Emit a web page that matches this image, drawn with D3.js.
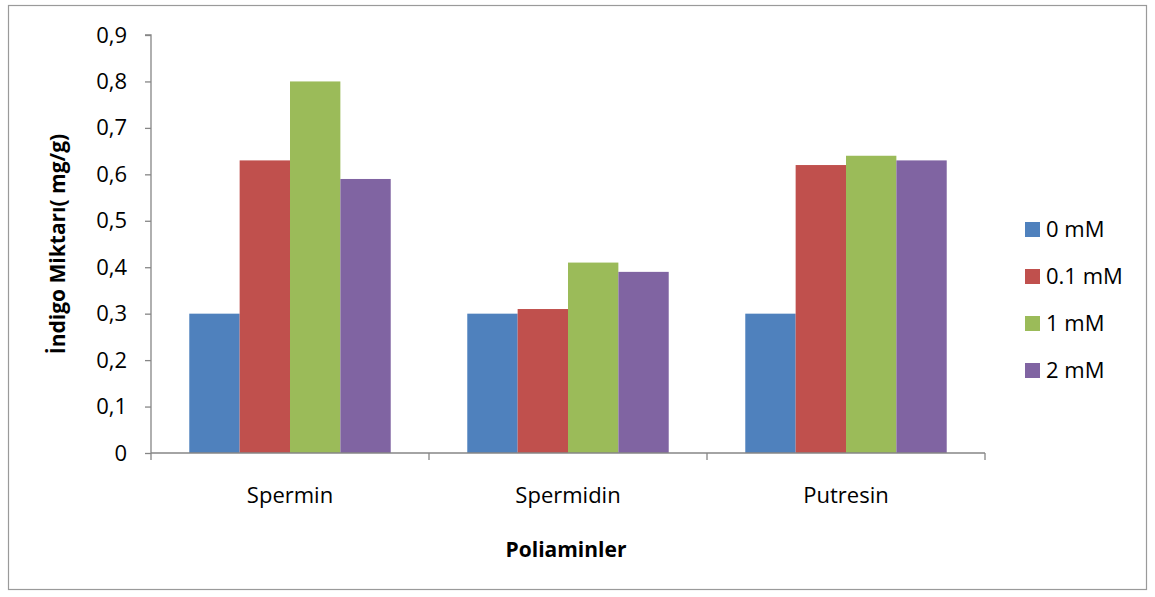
<!DOCTYPE html>
<html><head><meta charset="utf-8">
<script src="https://cdn.jsdelivr.net/npm/d3@7"></script>
<style>body{margin:0;background:#fff;} text{font-family:"Open Sans",sans-serif;}</style>
</head><body>
<svg id="c" width="1155" height="597"></svg>
<script>
const categories = ["Spermin", "Spermidin", "Putresin"];
const seriesNames = ["0 mM", "0.1 mM", "1 mM", "2 mM"];
const values0 = [0.30, 0.30, 0.30];
const values01 = [0.63, 0.31, 0.62];
const values1 = [0.80, 0.41, 0.64];
const values2 = [0.59, 0.39, 0.63];
const colors = ["#4F81BD", "#C0504D", "#9BBB59", "#8064A2"];
const yTicks = [0, 0.1, 0.2, 0.3, 0.4, 0.5, 0.6, 0.7, 0.8, 0.9];
const yTickLabels = ["0", "0,1", "0,2", "0,3", "0,4", "0,5", "0,6", "0,7", "0,8", "0,9"];

const series = [values0, values01, values1, values2];
const FONT = "'Open Sans',sans-serif";
const FS = 22;
const svg = d3.select("#c");
svg.append("rect").attr("x", 8.5).attr("y", 5.5).attr("width", 1138).attr("height", 584)
  .attr("fill", "#fff").attr("stroke", "#9a9a9a").attr("stroke-width", 1.2);

const L = 151, R = 985, T = 35, B = 453;
const x = d3.scaleBand().domain(categories).range([L, R]).paddingInner(0).paddingOuter(0);
const inner = d3.scaleBand().domain(d3.range(4)).range([0, x.bandwidth()]).paddingInner(0).paddingOuter(0.76);
const y = d3.scaleLinear().domain([0, 0.9]).range([B, T]);

categories.forEach((c, ci) => {
  series.forEach((s, si) => {
    svg.append("rect")
      .attr("x", x(c) + inner(si)).attr("width", inner.bandwidth())
      .attr("y", y(s[ci])).attr("height", B - y(s[ci]))
      .attr("fill", colors[si]);
  });
});

// y axis
const yAxis = d3.axisLeft(y).tickValues(yTicks).tickFormat((d, i) => yTickLabels[i]).tickSize(6).tickPadding(18);
const gy = svg.append("g").attr("transform", `translate(${L},0)`).call(yAxis);
gy.select(".domain").attr("stroke", "#868686").attr("stroke-width", 1.3).attr("d", `M-6,${T}H0V${B}`);
gy.selectAll(".tick line").attr("stroke", "#868686").attr("stroke-width", 1.3);
gy.selectAll(".tick text").attr("font-size", FS).attr("fill", "#000").attr("font-family", FONT);

// x axis
const xAxis = d3.axisBottom(x).tickSize(0).tickPadding(34);
const gx = svg.append("g").attr("transform", `translate(0,${B})`).call(xAxis);
gx.select(".domain").attr("stroke", "#868686").attr("stroke-width", 1.3).attr("d", `M${L},0H${R}`);
gx.selectAll(".tick text").attr("font-size", FS).attr("fill", "#000").attr("font-family", FONT);
const bounds = [L].concat(categories.map(c => x(c) + x.bandwidth()));
gx.selectAll(".sep").data(bounds).enter().append("line")
  .attr("x1", d => d).attr("x2", d => d).attr("y1", 0).attr("y2", 7)
  .attr("stroke", "#868686").attr("stroke-width", 1.3);

// axis titles
svg.append("text").attr("transform", `translate(65,244) rotate(-90)`)
  .attr("text-anchor", "middle").attr("font-size", 21).attr("font-weight", "bold").text("İndigo Miktarı( mg/g)");
svg.append("text").attr("x", (L + R) / 2 - 2).attr("y", 557).attr("text-anchor", "middle")
  .attr("font-size", 21).attr("font-weight", "bold").text("Poliaminler");

// legend
const lg = svg.append("g");
seriesNames.forEach((n, i) => {
  const yy = 229 + i * 47;
  lg.append("rect").attr("x", 1025).attr("y", yy - 7).attr("width", 15).attr("height", 15).attr("fill", colors[i]);
  lg.append("text").attr("x", 1046).attr("y", yy + 8).attr("font-size", FS).text(n);
});
</script>
</body></html>
